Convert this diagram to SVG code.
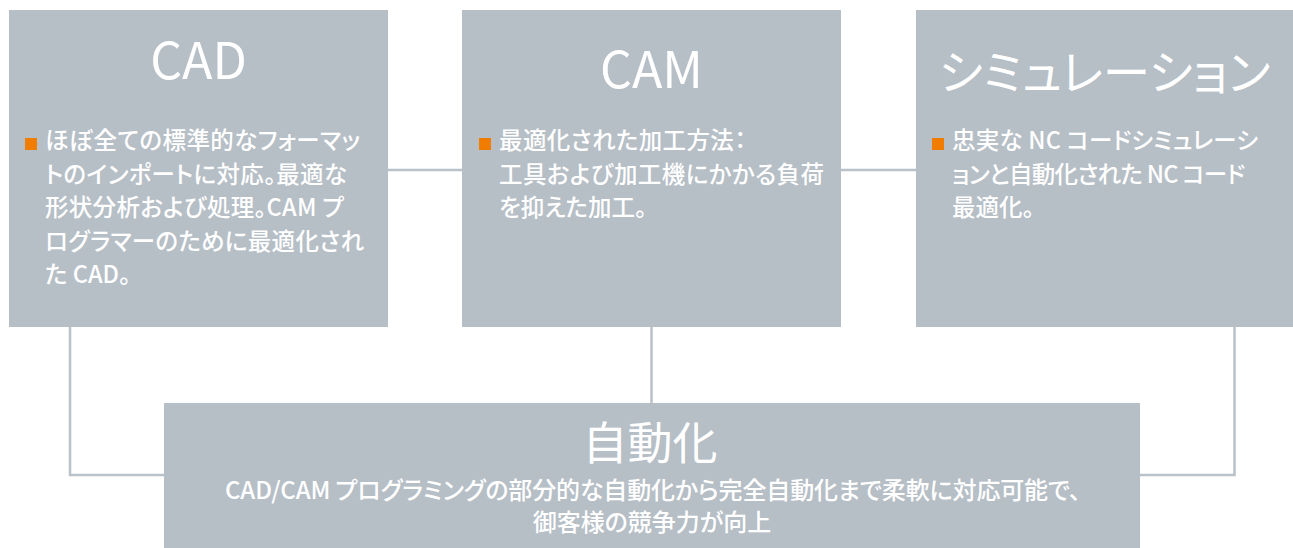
<svg xmlns="http://www.w3.org/2000/svg" width="1293" height="548" viewBox="0 0 1293 548">
<style>
.box{fill:#b6bec6}
.conn{fill:none;stroke:#b9c1c9;stroke-width:2.5}
text{font-family:"Noto Sans CJK JP","Noto Sans",sans-serif;fill:#ffffff;font-feature-settings:"palt" 1}
.title{font-size:50px;text-anchor:middle}
.body{font-size:23.5px;font-weight:500}
.sub{font-size:24px;font-weight:500;text-anchor:middle}
.bullet{fill:#f07d00}
</style>
<rect width="1293" height="548" fill="#ffffff"/>
<g id="connectors">
<line class="conn" x1="388" y1="170" x2="462" y2="170"/>
<line class="conn" x1="841" y1="170" x2="916" y2="170"/>
<polyline class="conn" points="70,327 70,475 164,475"/>
<line class="conn" x1="651.5" y1="327" x2="651.5" y2="403"/>
<polyline class="conn" points="1234.5,327 1234.5,475 1140,475"/>
</g>
<g id="cad">
<rect class="box" x="9" y="10" width="379" height="317"/>
<text class="title" x="198.5" y="79">CAD</text>
<rect class="bullet" x="25" y="138" width="12" height="12"/>
<text class="body" x="45" y="149" textLength="315">ほぼ全ての標準的なフォーマッ</text>
<text class="body" x="45" y="182.5" textLength="302">トのインポートに対応。最適な</text>
<text class="body" x="45" y="216" textLength="299">形状分析および処理。CAM プ</text>
<text class="body" x="45" y="249.5" textLength="319">ログラマーのために最適化され</text>
<text class="body" x="45" y="283">た CAD。</text>
</g>
<g id="cam">
<rect class="box" x="462" y="10" width="379" height="317"/>
<text class="title" x="651.5" y="88">CAM</text>
<rect class="bullet" x="479" y="138" width="12" height="12"/>
<text class="body" x="499" y="149" textLength="247">最適化された加工方法：</text>
<text class="body" x="499" y="182.5" textLength="325">工具および加工機にかかる負荷</text>
<text class="body" x="499" y="216">を抑えた加工。</text>
</g>
<g id="simulation">
<rect class="box" x="916" y="10" width="377" height="317"/>
<text class="title" x="1104.5" y="90" style="font-size:47.5px">シミュレーション</text>
<rect class="bullet" x="932" y="138" width="12" height="12"/>
<text class="body" x="952" y="149" textLength="306">忠実な NC コードシミュレーシ</text>
<text class="body" x="952" y="182.5" textLength="293">ョンと自動化された NC コード</text>
<text class="body" x="952" y="216">最適化。</text>
</g>
<g id="automation">
<rect class="box" x="164" y="403" width="976" height="145"/>
<text class="title" x="650" y="460" style="font-size:45px">自動化</text>
<text class="sub" x="653" y="499" textLength="856">CAD/CAM プログラミングの部分的な自動化から完全自動化まで柔軟に対応可能で、</text>
<text class="sub" x="652" y="531">御客様の競争力が向上</text>
</g>
</svg>
